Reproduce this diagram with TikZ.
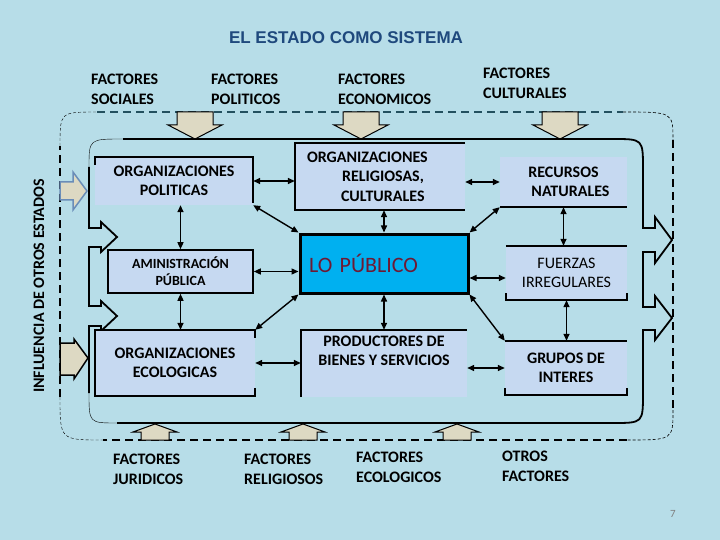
\documentclass[tikz,border=0pt]{standalone}
\usepackage{fontspec}
\setmainfont{Carlito}
\newfontfamily\titulofont{Liberation Sans}
\usetikzlibrary{arrows.meta}

\definecolor{fondo}{HTML}{B7DDE8}
\definecolor{cajaazul}{HTML}{C6D9F1}
\definecolor{beige}{HTML}{DDD9C3}
\definecolor{cian}{HTML}{00B0F0}
\definecolor{granate}{HTML}{6E1A34}
\definecolor{azultitulo}{HTML}{1F497D}
\definecolor{petroleo}{HTML}{23505F}
\definecolor{grisazul}{HTML}{6A8DB8}

\tikzset{
  caja/.style={fill=cajaazul, inner sep=0pt, align=center, font=\bfseries\fontsize{16}{19.5}\selectfont},
  borde/.style={line width=1.6pt},
  contorno/.style={line width=1.8pt},
  conector/.style={{Triangle[length=7pt,width=6pt]}-{Triangle[length=7pt,width=6pt]}, line width=1.4pt},
  etiqueta/.style={anchor=north west, align=left, inner sep=0pt, font=\bfseries\fontsize{16}{19.5}\selectfont},
  flecha/.style={fill=beige, draw=black, line width=1pt},
  marco/.style={line width=2.5pt, dash pattern=on 8pt off 5pt},
  esquina/.style={thin, densely dashed}
}

\begin{document}
\begin{tikzpicture}[x=1pt, y=-1pt]
  \fill[fondo] (0,0) rectangle (720,540);

  \node[font=\titulofont\bfseries\fontsize{17}{20}\selectfont, text=azultitulo] (titulo) at (346,38) {EL ESTADO COMO SISTEMA};

  % marco exterior
  \draw[marco, draw=petroleo] (97,112) -- (623,112);
  \draw[marco] (673,140) -- (673,410);
  \draw[marco] (627,440) -- (103,440);
  \draw[marco] (60,397) -- (60,146);
  \draw[esquina] (60,146) .. controls (60,112) .. (97,112);
  \draw[esquina, semithick] (623,112) .. controls (673,112) .. (673,140);
  \draw[esquina, semithick] (673,410) .. controls (673,440) .. (627,440);
  \draw[esquina] (60,397) .. controls (60,440) .. (103,440);

  % factores que entran
  \foreach \x in {195,361,560}
    \draw[flecha] (\x-18,112) -- (\x+18,112) -- (\x+18,125) -- (\x+27,125) -- (\x,139) -- (\x-27,125) -- (\x-18,125) -- cycle;
  \foreach \x in {155,303,457}
    \draw[flecha] (\x-14,440) -- (\x-14,432) -- (\x-22,432) -- (\x,424) -- (\x+22,432) -- (\x+14,432) -- (\x+14,440) -- cycle;
  \draw[flecha, draw=grisazul, line width=1.5pt] (60,182) -- (73,182) -- (73,172) -- (87,191) -- (73,210) -- (73,200) -- (60,200) -- cycle;
  \draw[flecha, line width=1.5pt] (60,343) -- (74,343) -- (74,339) -- (88,358) -- (74,379) -- (74,375) -- (60,375) -- cycle;

  % sistema
  \draw[contorno] (123,139) -- (613,139) .. controls (643,139) .. (643,169)
    -- (643,228) -- (655,228) -- (655,217) -- (672,240) -- (655,263) -- (655,252) -- (643,252)
    -- (643,307) -- (655,307) -- (655,296) -- (672,318) -- (655,340) -- (655,330) -- (643,330)
    -- (643,393) .. controls (643,423) .. (613,423) -- (117,423);
  \draw[contorno] (89,393) -- (89,326) -- (101,326) -- (101,331) -- (117,316) -- (101,301) -- (101,306) -- (89,306)
    -- (89,247) -- (101,247) -- (101,252) -- (117,237) -- (101,222) -- (101,228) -- (89,228) -- (89,167);
  \draw[thin] (89,167) .. controls (89,139) .. (123,139);
  \draw[thin] (89,393) .. controls (89,423) .. (117,423);

  % cajas
  \node[caja, minimum width=158pt, minimum height=48pt] (op) at (174,181) {ORGANIZACIONES\\POLITICAS};
  \node[caja, draw, line width=1.6pt, minimum width=145pt, minimum height=43pt, font=\bfseries\fontsize{14}{17}\selectfont] (ap) at (180.5,271.5) {AMINISTRACIÓN\\PÚBLICA};
  \node[caja, minimum width=160pt, minimum height=66pt] (oe) at (175,363) {ORGANIZACIONES\\ECOLOGICAS};
  \node[caja, align=left, text width=146pt, inner xsep=12pt, minimum height=67pt] (orc) at (380,176.5) {ORGANIZACIONES\\\hspace*{35pt}RELIGIOSAS,\\\hspace*{34pt}CULTURALES};
  \node[caja, fill=cian, draw, line width=3pt, align=left, text width=150pt, inner xsep=9pt, minimum height=59pt,
        font=\fontsize{22}{26}\selectfont, text=granate] (lo) at (384,263.5) {LO PÚBLICO};
  \node[caja, minimum width=166pt, minimum height=67pt] (pbs) at (384,363.5) {PRODUCTORES DE\\BIENES Y SERVICIOS\\\strut};
  \node[caja, minimum width=127pt, minimum height=50pt] (rn) at (563.5,182) {RECURSOS\\\hspace*{14pt}NATURALES};
  \node[caja, minimum width=121pt, minimum height=54pt, font=\fontsize{16}{19.5}\selectfont] (fi) at (566.5,273) {FUERZAS\\IRREGULARES};
  \node[caja, minimum width=122pt, minimum height=54pt] (gi) at (566,368) {GRUPOS DE\\INTERES};

  % bordes abiertos
  \draw[borde] ([yshift=-8pt]op.north west) -- (op.north west) -- (op.north east) -- ([yshift=2pt]op.south east);
  \draw[borde] ([yshift=-8pt]oe.north east) -- (oe.north east) -- (oe.north west) -- (oe.south west) -- (oe.south east) -- ([yshift=8pt]oe.south east);
  \draw[borde] (orc.north east) -- (orc.north west) -- (orc.south west) -- (orc.south east);
  \draw[borde] (pbs.south west) -- (pbs.north west) -- (pbs.north east);
  \draw[borde] (rn.south west) -- (rn.south east);
  \draw[borde] (fi.north west) -- (fi.north east);
  \draw[borde] ([yshift=7pt]fi.south west) -- (fi.south west) -- (fi.south east) -- ([yshift=7pt]fi.south east);
  \draw[borde] (gi.north west) -- (gi.north east);
  \draw[borde] ([yshift=7pt]gi.south west) -- (gi.south west) -- (gi.south east) -- ([yshift=7pt]gi.south east);

  % relaciones
  \draw[conector] (op.east) -- (op.east -| orc.west);
  \draw[conector] (op.south east) -- (lo.north west);
  \draw[conector] (ap.north) -- (ap.north |- op.south);
  \draw[conector] (ap.east) -- (ap.east -| lo.west);
  \draw[conector] (ap.south) -- (ap.south |- oe.north);
  \draw[conector] (oe.north east) -- (lo.south west);
  \draw[conector] (oe.east) -- (oe.east -| pbs.west);
  \draw[conector] (lo.north) -- (lo.north |- orc.south);
  \draw[conector] (rn.west) -- (rn.west -| orc.east);
  \draw[conector] (rn.south west) -- (lo.north east);
  \draw[conector] (rn.south) -- (rn.south |- fi.north);
  \draw[conector] ([yshift=-5pt]fi.west) -- ([yshift=-5pt]fi.west -| lo.east);
  \draw[conector] (fi.south) -- (fi.south |- gi.north);
  \draw[conector] (lo.south east) -- (gi.north west);
  \draw[conector] (gi.west) -- (gi.west -| pbs.east);
  \draw[conector] (lo.south) -- (lo.south |- pbs.north);

  % factores
  \node[etiqueta] (fsociales) at (91,74) {FACTORES\\SOCIALES};
  \node[etiqueta] (fpoliticos) at (211,74) {FACTORES\\POLITICOS};
  \node[etiqueta] (feconomicos) at (338,74) {FACTORES\\ECONOMICOS};
  \node[etiqueta] (fculturales) at (483,68) {FACTORES\\CULTURALES};
  \node[etiqueta] (fjuridicos) at (113,454) {FACTORES\\JURIDICOS};
  \node[etiqueta] (freligiosos) at (244,454) {FACTORES\\RELIGIOSOS};
  \node[etiqueta] (fecologicos) at (356,452) {FACTORES\\ECOLOGICOS};
  \node[etiqueta] (fotros) at (502,451) {OTROS\\FACTORES};

  \node[rotate=90, font=\bfseries\fontsize{16}{19}\selectfont] (influencia) at (39,286) {INFLUENCIA DE OTROS ESTADOS};
  \node[font=\fontsize{11}{13}\selectfont, text=gray] (pagina) at (673,514) {7};
\end{tikzpicture}
\end{document}
